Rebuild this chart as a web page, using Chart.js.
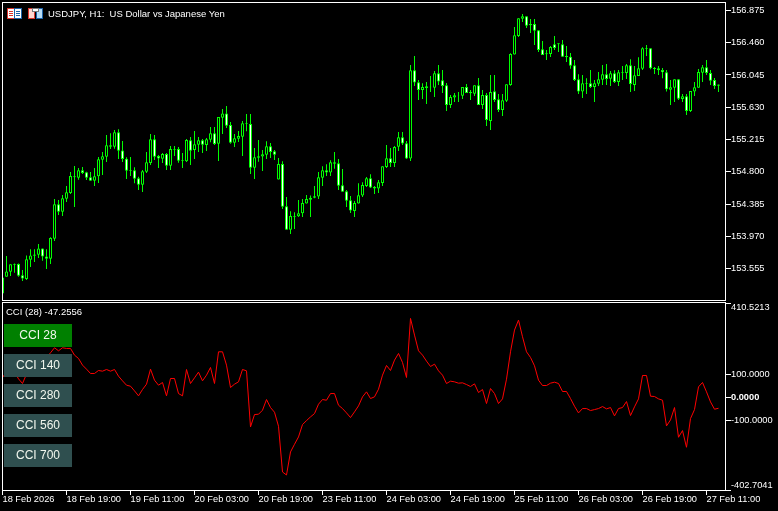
<!DOCTYPE html>
<html>
<head>
<meta charset="utf-8">
<style>
  html, body { margin: 0; padding: 0; background: #000; }
  #wrap { position: relative; width: 778px; height: 511px; background: #000; overflow: hidden; font-family: "Liberation Sans", sans-serif; }
  canvas { position: absolute; left: 0; }
  #main-chart { top: 0; }
  #cci-chart { top: 301px; }
  .label { position: absolute; color: #fff; font-size: 9.5px; line-height: 11px; white-space: pre; }
  .cci-btn { position: absolute; left: 4px; width: 68px; height: 23px; line-height: 23px; text-align: center; font-size: 12px; color: #f2f7ee; background: #2f4f4f; }
  .cci-btn.active { background: #008000; }
  svg { position: absolute; }
</style>
</head>
<body>
<div id="wrap">
  <canvas id="main-chart" width="778" height="301"></canvas>
  <canvas id="cci-chart" width="778" height="210"></canvas>
  <svg style="left:7px;top:8px" width="15" height="11" shape-rendering="crispEdges">
    <rect x="0.5" y="0.5" width="7" height="10" fill="#fff" stroke="#d8342c"/>
    <rect x="7.5" y="0.5" width="7" height="10" fill="#fff" stroke="#1c62a8"/>
    <path d="M2 3h4M2 5h4M2 7h4" stroke="#d8342c"/>
    <path d="M9 3h4M9 5h4M9 7h4" stroke="#1c62a8"/>
  </svg>
  <svg style="left:28px;top:8px" width="15" height="11" shape-rendering="crispEdges">
    <rect x="0.5" y="0.5" width="6" height="10" fill="#ffd6d0" stroke="#d8342c"/>
    <rect x="8.5" y="0.5" width="6" height="10" fill="#b8dcf5" stroke="#1c62a8"/>
    <rect x="4.5" y="0.5" width="6" height="3" fill="#fff" stroke="#777"/>
  </svg>
  <div class="label" style="left:48px;top:8px">USDJPY, H1:  US Dollar vs Japanese Yen</div>
  <div class="label" style="left:6px;top:306px">CCI (28) -47.2556</div>
  <div class="cci-btn active" style="top:324px">CCI 28</div>
  <div class="cci-btn" style="top:354px">CCI 140</div>
  <div class="cci-btn" style="top:384px">CCI 280</div>
  <div class="cci-btn" style="top:414px">CCI 560</div>
  <div class="cci-btn" style="top:444px">CCI 700</div>
</div>
<script src="https://cdn.jsdelivr.net/npm/chart.js@4/dist/chart.umd.min.js"></script>
<script>
// USDJPY H1 candles, oldest first
const opens = [153.235,153.450,153.514,153.601,153.613,153.467,153.420,153.669,153.720,153.733,153.814,153.711,153.681,153.939,154.381,154.286,154.453,154.526,154.728,154.724,154.818,154.792,154.728,154.685,154.741,154.955,154.994,155.123,155.123,155.307,155.075,154.968,154.814,154.818,154.715,154.634,154.801,154.912,155.217,155.002,154.968,155.028,154.878,155.084,155.093,154.942,154.934,155.204,155.080,155.148,155.204,155.144,155.213,155.294,155.161,155.496,155.551,155.401,155.174,155.226,155.251,155.414,155.414,154.853,154.981,154.995,155.020,155.127,155.063,154.699,154.900,154.355,154.055,154.222,154.227,154.265,154.390,154.441,154.467,154.480,154.724,154.819,154.789,154.904,154.909,154.626,154.548,154.433,154.295,154.390,154.493,154.617,154.716,154.583,154.583,154.656,154.862,154.973,154.913,155.123,155.243,155.166,154.969,156.105,155.951,155.852,155.878,155.887,155.882,156.067,155.977,155.912,155.659,155.754,155.784,155.779,155.891,155.809,155.805,155.912,155.659,155.788,155.453,155.835,155.732,155.595,155.715,155.916,156.307,156.547,156.770,156.800,156.684,156.701,156.620,156.375,156.311,156.315,156.440,156.440,156.440,156.277,156.281,156.169,155.989,155.831,155.929,155.938,155.891,155.933,155.985,156.054,155.998,156.066,155.955,156.075,156.071,156.169,155.916,156.032,156.126,156.380,156.388,156.122,156.131,156.109,156.079,155.856,155.882,155.989,155.736,155.770,155.582,155.831,155.882,156.075,156.144,156.071,155.981,155.908];
const closes = [153.441,153.518,153.609,153.609,153.463,153.428,153.673,153.724,153.737,153.814,153.711,153.681,153.947,154.381,154.286,154.458,154.535,154.745,154.741,154.818,154.784,154.724,154.685,154.741,154.960,154.998,155.140,155.140,155.307,155.071,154.964,154.814,154.822,154.711,154.634,154.805,154.921,155.217,154.994,154.972,155.028,154.878,155.093,155.093,154.942,154.951,155.208,155.071,155.153,155.204,155.148,155.217,155.294,155.157,155.504,155.551,155.393,155.174,155.230,155.260,155.423,155.423,154.852,154.986,154.999,155.025,155.127,155.055,155.020,154.900,154.351,154.055,154.231,154.231,154.265,154.398,154.450,154.467,154.484,154.729,154.819,154.789,154.922,154.922,154.621,154.544,154.428,154.300,154.398,154.497,154.630,154.716,154.596,154.604,154.664,154.870,154.973,154.913,155.119,155.243,155.162,154.969,156.105,155.947,155.852,155.891,155.899,155.895,156.067,155.960,155.904,155.659,155.762,155.784,155.788,155.891,155.814,155.827,155.912,155.659,155.788,155.466,155.827,155.724,155.595,155.719,155.925,156.315,156.555,156.774,156.800,156.680,156.701,156.615,156.367,156.302,156.324,156.405,156.392,156.452,156.281,156.289,156.165,155.981,155.831,155.938,155.938,155.891,155.938,155.989,156.054,155.993,156.066,155.955,156.079,156.084,156.169,155.929,156.041,156.131,156.388,156.388,156.131,156.135,156.105,156.079,155.861,155.886,155.989,155.740,155.770,155.582,155.839,155.886,156.084,156.144,156.071,155.972,155.903,155.921];
const highs = [153.441,153.716,153.609,153.621,153.621,153.536,153.724,153.802,153.802,153.870,153.814,153.802,153.956,154.449,154.436,154.501,154.616,154.797,154.874,154.848,154.861,154.801,154.797,154.848,154.990,155.054,155.273,155.294,155.337,155.346,155.195,154.985,154.990,154.857,154.737,154.822,155.054,155.286,155.273,155.015,155.041,155.041,155.131,155.131,155.118,155.041,155.221,155.247,155.324,155.247,155.221,155.234,155.376,155.376,155.504,155.607,155.646,155.440,155.286,155.324,155.453,155.543,155.543,155.106,155.209,155.080,155.192,155.170,155.080,154.977,154.934,154.476,154.291,154.278,154.437,154.450,154.501,154.493,154.617,154.797,154.870,154.896,154.947,155.055,154.964,154.836,154.566,154.488,154.424,154.651,154.664,154.733,154.767,154.617,154.694,154.870,155.145,155.106,155.132,155.312,155.312,155.196,156.174,156.290,155.981,155.938,155.955,156.032,156.097,156.174,156.110,155.942,155.788,155.814,155.827,155.891,155.930,155.852,155.912,156.007,155.852,155.814,156.045,156.045,155.801,155.801,155.925,156.324,156.663,156.774,156.830,156.800,156.766,156.766,156.620,156.482,156.367,156.418,156.547,156.452,156.495,156.418,156.328,156.238,156.054,156.045,156.002,156.109,155.981,156.084,156.174,156.186,156.096,156.105,156.109,156.161,156.186,156.247,156.161,156.272,156.401,156.431,156.388,156.148,156.161,156.135,156.109,155.981,155.989,155.989,155.800,155.800,155.839,155.955,156.122,156.174,156.238,156.109,156.006,155.921];
const lows = [153.227,153.450,153.458,153.501,153.450,153.394,153.407,153.574,153.639,153.690,153.656,153.548,153.613,153.909,154.243,154.230,154.411,154.514,154.346,154.698,154.771,154.694,154.685,154.616,154.655,154.758,154.925,155.093,155.097,154.964,154.925,154.707,154.745,154.651,154.565,154.539,154.784,154.887,154.951,154.848,154.912,154.822,154.822,155.002,154.917,154.848,154.925,154.887,154.964,155.054,155.041,155.067,155.178,155.144,154.938,155.286,155.363,155.161,155.118,155.183,155.002,155.320,154.771,154.707,154.930,154.810,154.964,154.977,154.952,154.699,154.321,154.055,154.000,154.064,154.218,154.218,154.390,154.218,154.458,154.450,154.617,154.746,154.746,154.840,154.566,154.544,154.347,154.270,154.218,154.390,154.476,154.604,154.591,154.514,154.527,154.617,154.849,154.862,154.862,155.067,155.145,154.964,154.939,155.904,155.724,155.737,155.672,155.827,155.762,155.917,155.814,155.582,155.621,155.698,155.698,155.737,155.814,155.724,155.775,155.659,155.608,155.389,155.338,155.698,155.569,155.518,155.698,155.908,156.307,156.534,156.727,156.650,156.585,156.431,156.341,156.302,156.238,156.277,156.367,156.341,156.277,156.212,156.126,155.968,155.800,155.749,155.800,155.878,155.698,155.903,155.916,155.916,155.903,155.942,155.903,155.981,155.993,155.826,155.839,156.032,156.109,156.289,156.118,156.058,156.045,156.002,155.831,155.659,155.698,155.723,155.698,155.530,155.569,155.775,155.882,155.955,156.045,155.916,155.865,155.826];

// CCI(28) for the same bars
const cciValues = [86.5,111.2,125.7,111.2,80.7,60.4,101.1,111.2,125.7,140.3,154.8,173.7,194.0,215.8,202.7,215.8,212.9,212.9,183.8,169.3,140.3,122.8,104.0,104.0,117.0,114.1,121.4,114.1,121.4,92.3,72.0,53.1,48.8,28.5,6.7,34.3,57.5,122.8,74.9,53.1,64.8,6.7,82.2,82.2,16.8,6.7,121.4,60.4,85.1,109.8,72.0,96.7,130.1,60.4,198.3,198.3,140.3,43.0,57.5,67.7,121.4,115.6,-128.4,-74.6,-73.2,-55.8,-9.3,-44.1,-64.5,-125.5,-324.4,-337.4,-237.3,-203.9,-171.9,-118.2,-100.8,-84.8,-70.3,-29.6,-9.3,-12.2,16.8,16.8,-34.0,-48.5,-67.4,-87.7,-63.0,-36.9,2.3,24.1,-4.9,2.3,35.7,96.7,138.8,117.0,162.0,191.1,151.9,86.5,343.5,270.9,202.7,183.8,157.7,134.5,144.6,115.6,96.7,60.4,70.6,67.7,61.9,63.3,56.0,47.3,59.0,21.2,34.3,-26.7,38.6,16.8,-26.7,-6.4,79.3,198.3,292.7,336.3,263.7,198.3,173.7,137.4,74.9,51.7,51.7,61.9,66.2,60.4,25.6,25.6,-4.9,-38.3,-67.4,-48.5,-48.5,-57.2,-52.9,-48.5,-39.8,-49.9,-44.1,-80.4,-48.5,-44.1,-18.0,-79.0,-41.2,-6.4,95.3,95.3,5.2,3.8,-6.4,-12.2,-124.0,-97.9,-44.1,-173.4,-144.3,-216.9,-92.1,-52.9,45.9,64.8,24.1,-19.5,-51.4,-47.2556];

const timeLabels = ['18 Feb 2026','18 Feb 19:00','19 Feb 11:00','20 Feb 03:00','20 Feb 19:00','23 Feb 11:00','24 Feb 03:00','24 Feb 19:00','25 Feb 11:00','26 Feb 03:00','26 Feb 19:00','27 Feb 11:00'];
const priceTicks = [156.875,156.46,156.045,155.63,155.215,154.8,154.385,153.97,153.555];
const cciTicks = [410.5213,100,0,-100,-402.7041];

const barsPerLabel = 16;
const axisFont = { family: '"Liberation Sans", sans-serif', size: 9.25, lineHeight: 1 };

// white frame round each pane (only the plot edges, the axes draw their own ticks)
const framePlugin = {
    id: 'frame',
    afterDraw(chart, args, opts) {
        const a = chart.chartArea;
        const ctx = chart.ctx;
        ctx.save();
        ctx.strokeStyle = '#fff';
        ctx.lineWidth = 1;
        ctx.strokeRect(a.left + 0.5, a.top - opts.topShift + 0.5, a.width - 1, a.height + opts.topShift);
        ctx.restore();
    }
};

function xAxis(showLabels) {
    return {
        type: 'linear',
        display: showLabels,
        offset: false,
        min: -0.125,
        max: 180.875,
        afterBuildTicks(axis) {
            axis.ticks = timeLabels.map((_, i) => ({ value: i * barsPerLabel }));
        },
        afterFit(axis) {
            axis.paddingLeft = 0;
            axis.paddingRight = 0;
            if (showLabels) axis.height = 21;
        },
        border: { display: false },
        grid: { drawOnChartArea: false, offset: false, color: '#fff', tickColor: '#fff', tickLength: 5 },
        ticks: {
            color: '#fff',
            font: axisFont,
            padding: 0,
            align: 'start',
            maxRotation: 0,
            autoSkip: false,
            callback: (value) => timeLabels[value / barsPerLabel]
        }
    };
}

function yAxis(min, max, tickValues, format, font) {
    return {
        position: 'right',
        min: min,
        max: max,
        afterBuildTicks(axis) {
            axis.ticks = tickValues.map((v) => ({ value: v }));
        },
        afterFit(axis) {
            axis.width = 52;
            axis.paddingTop = 0;
            axis.paddingBottom = 0;
        },
        border: { display: false },
        grid: { drawOnChartArea: false, color: '#fff', tickColor: '#fff', tickLength: 5 },
        ticks: { color: '#fff', font: font || axisFont, padding: 0, autoSkip: false, callback: format }
    };
}

const commonOptions = {
    responsive: false,
    animation: false,
    events: [],
    plugins: { legend: { display: false }, tooltip: { enabled: false } }
};

new Chart(document.getElementById('main-chart'), {
    type: 'bar',
    data: {
        datasets: [
            {
                label: 'Body',
                data: opens.map((o, i) => ({ x: i, y: [o, closes[i]] })),
                grouped: false,
                barThickness: 3,
                borderWidth: 1,
                borderSkipped: false,
                inflateAmount: 0,
                borderColor: '#00ff00',
                backgroundColor: opens.map((o, i) => (closes[i] < o ? '#ffffff' : '#000000'))
            },
            {
                label: 'Wick',
                data: highs.map((h, i) => ({ x: i, y: [lows[i], h] })),
                grouped: false,
                barThickness: 1,
                borderWidth: 0,
                inflateAmount: 0,
                backgroundColor: '#00ff00'
            }
        ]
    },
    options: {
        ...commonOptions,
        layout: { padding: { left: 2, top: 2, bottom: 1 } },
        scales: {
            x: xAxis(false),
            y: yAxis(153.150, 156.984, priceTicks, (v) => v.toFixed(3))
        },
        plugins: { ...commonOptions.plugins, frame: { topShift: 0 } }
    },
    plugins: [framePlugin]
});

new Chart(document.getElementById('cci-chart'), {
    type: 'line',
    data: {
        datasets: [{
            label: 'CCI (28)',
            data: cciValues.map((v, i) => ({ x: i, y: v })),
            borderColor: '#ff0000',
            borderWidth: 1,
            pointRadius: 0,
            tension: 0
        }]
    },
    options: {
        ...commonOptions,
        layout: { padding: { left: 2, top: 2 } },
        scales: {
            x: xAxis(true),
            y: yAxis(-402.7041, 410.5213, cciTicks, (v) => {
                // the two end labels sit inside the pane, blank lines push them off the tick
                if (v === cciTicks[0]) return ['', v.toFixed(4)];
                if (v === cciTicks[cciTicks.length - 1]) return [v.toFixed(4), ''];
                return v.toFixed(4);
            }, (ctx) => (ctx.tick && ctx.tick.value === 0 ? { ...axisFont, weight: 'bold' } : axisFont))
        },
        plugins: { ...commonOptions.plugins, frame: { topShift: 1 } }
    },
    plugins: [framePlugin]
});
</script>
</body>
</html>
